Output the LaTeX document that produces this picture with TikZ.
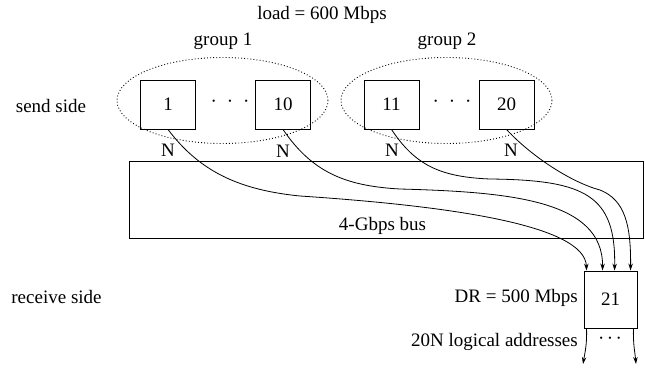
\documentclass[tikz,border=0pt]{standalone}
\usepackage{fontspec}
\setmainfont{Liberation Serif}
\usetikzlibrary{arrows.meta,shapes.geometric}
\newcommand{\wideDots}{\makebox{\textperiodcentered\hspace{10pt}\textperiodcentered\hspace{10pt}\textperiodcentered}}
\newcommand{\tightDots}{\makebox{\textperiodcentered\hspace{2.5pt}\textperiodcentered\hspace{2.5pt}\textperiodcentered}}
\begin{document}
\begin{tikzpicture}[x=1pt, y=-1pt, inner sep=0pt, font=\fontsize{19}{22}\selectfont,
    station/.style={draw, line width=0.9pt, minimum width=55pt, minimum height=49pt},
    grp/.style={draw, ellipse, line width=0.9pt, dash pattern=on 0.9pt off 2.2pt, minimum width=211pt, minimum height=86pt},
    link/.style={line width=0.8pt, -{Stealth[length=7pt,width=4.5pt]}}]
    \useasboundingbox (0,0) rectangle (645,372);
    \node (load) at (322,15) {load = 600 Mbps};
    \node (g1) [grp] at (222.5,100.5) {};
    \node (g2) [grp] at (446.5,100.5) {};
    \node (g1l) at (223,41) {group 1};
    \node (g2l) at (447,41) {group 2};
    \node (send) at (51,106) {send side};
    \node (recv) at (56.5,297) {receive side};
    \node (s1) [station] at (168,104.5) {1};
    \node (s10) [station] at (283,104.5) {10};
    \node (s11) [station] at (391.5,104.5) {11};
    \node (s20) [station] at (506.5,104.5) {20};
    \node (d1) at (230,104) {\wideDots};
    \node (d2) at (452,104) {\wideDots};
    \node (n1) at (168,150) {N};
    \node (n10) at (283,151) {N};
    \node (n11) at (392,150) {N};
    \node (n20) at (511,150) {N};
    \node (bus) [draw, line width=0.9pt, minimum width=514pt, minimum height=77pt] at (386,199.5) {};
    \node (busl) at (382.5,226) {4-Gbps bus};
    \node (r) [station, minimum width=53pt, minimum height=57pt] at (610.5,299.5) {21};
    \node (dr) [anchor=east] at (578,298) {DR = 500 Mbps};
    \node (addr) [anchor=east] at (578,342) {20N logical addresses};
    \node (d3) at (610,341) {\tightDots};
    \coordinate (t1) at ([xshift=3pt]r.north west);
    \coordinate (t2) at ([xshift=19pt]r.north west);
    \coordinate (t3) at ([xshift=31pt]r.north west);
    \coordinate (t4) at ([xshift=47pt]r.north west);
    \coordinate (o1) at (583,364);
    \coordinate (o2) at (636,364);
    \draw[link] (s1.south) .. controls (200,172) and (240,190) .. (300,196)
        .. controls (450,206) and (585,225) .. (t1);
    \draw[link] (s10.south) .. controls (312,172) and (345,186) .. (400,189)
        .. controls (510,192) and (603,200) .. (t2);
    \draw[link] (s11.south) .. controls (415,165) and (440,177) .. (490,179)
        .. controls (585,180) and (616,195) .. (t3);
    \draw[link] (s20.south) .. controls (530,155) and (570,182) .. (600,190)
        .. controls (625,200) and (631,225) .. (t4);
    \draw[link] ([xshift=3pt]r.south west) .. controls (587,345) and (585,352) .. (o1);
    \draw[link] ([xshift=-4pt]r.south east) .. controls (633,345) and (635,352) .. (o2);
\end{tikzpicture}
\end{document}
